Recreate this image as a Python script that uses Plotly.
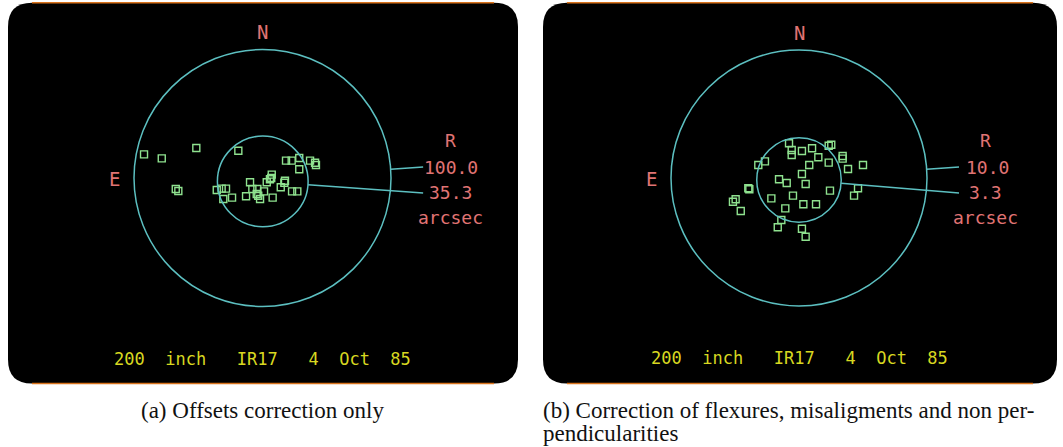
import math
import plotly.graph_objects as go

W, H = 1063, 447

# Guide-star pointing offsets in arcsec (east, north) -- panel (a): offsets correction only
east_a = [92.2, 78.4, 51.5, 67.5, 65.5, 18.8, 35.6, 31.8, 28.4, 30.5, 23.7, 12.8,
          9.7, 7.9, 4.0, 4.5, 3.3, 1.9, -1.2, -3.3, -7.2, -5.8, -6.8, -7.9, -14.2,
          -17.5, -17.0, -23.0, -27.1, -18.3, -22.7, -28.6, -28.6, -37.0, -40.9, -41.6]
north_a = [18.4, 15.3, 23.3, -8.6, -10.1, 21.2, -9.3, -8.3, -8.3, -16.3, -15.3, -14.2,
           -3.3, -8.6, -8.6, -12.5, -13.8, -16.3, -10.4, -3.3, 2.6, -1.0, 0.0, -15.3, -7.2,
           -2.1, -3.7, -10.4, -10.4, 13.5, 13.5, 15.6, 6.8, 13.5, 11.9, 10.1]

# Panel (b): after flexure / misalignment / non-perpendicularity correction
east_b = [0.78, 0.57, 0.57, -0.23, -1.02, -1.51, -2.32, -2.52, -3.41, -3.41, -5.00,
          -3.83, -2.32, -0.80, -0.23, 1.56, 0.96, -0.52, -2.42, -4.61, -4.30, 0.47,
          2.16, -0.34, -1.33, 1.07, 1.38, 1.66, -0.23, -0.52, 3.18, 2.66, 3.96, 3.88,
          4.95, 5.16, 4.55]
north_b = [2.71, 2.19, 1.80, 2.11, 2.32, 1.62, 2.52, 2.60, 1.72, 1.51, 1.02,
           0.70, 1.20, 1.02, 0.31, -0.10, -0.39, -0.47, -0.99, -0.80, -1.38, -1.38,
           -1.59, -2.05, -2.05, -2.37, -3.28, -3.85, -3.96, -4.59, 1.02, 1.30, -0.80, -0.88,
           -1.66, -1.85, -2.58]

# Reference ring radius and rms radius (arcsec), plus centre of the rms ring
outer_r = [100.0, 10.0]
rms_r = [35.3, 3.3]
rms_center = [(-0.2, -2.7), (0.0, -0.15)]
outer_label = ["100.0", "10.0"]
rms_label = ["35.3", "3.3"]

footer = "200\u00a0\u00a0inch\u00a0\u00a0\u00a0IR17\u00a0\u00a0\u00a04\u00a0\u00a0Oct\u00a0\u00a085"
captions_a = ["(a) Offsets correction only"]
captions_b = ["(b) Correction of flexures, misaligments and non per-", "pendicularities"]

# ---- screen layout (pixels) ----
panels = [
    dict(box=(8, 2.7, 518, 383.5), center=(262.5, 178.0), ring_px=128.5),
    dict(box=(543, 2.7, 1057, 383.5), center=(799.0, 178.0), ring_px=128.0),
]

BG = "#000000"
RING = "#5cbfc0"
POINT = "#8fe28f"
LABEL = "#e07474"
FOOT = "#d8d820"
EDGE = "#d9731c"
MONO = "DejaVu Sans Mono"


def px(x):
    return x / W


def py(y):
    return 1 - y / H


fig = go.Figure()
shapes = []
annotations = []
series = [(east_a, north_a), (east_b, north_b)]

for i, p in enumerate(panels):
    x0, y0, x1, y1 = p["box"]
    cx, cy = p["center"]
    R = outer_r[i]
    s = p["ring_px"] / R  # pixels per arcsec
    xa = "x" if i == 0 else f"x{i + 1}"
    ya = "y" if i == 0 else f"y{i + 1}"
    xkey = "xaxis" if i == 0 else f"xaxis{i + 1}"
    ykey = "yaxis" if i == 0 else f"yaxis{i + 1}"

    # east grows to the left, north grows upward
    fig.update_layout({
        xkey: dict(domain=[px(x0), px(x1)], range=[(cx - x0) / s, (cx - x1) / s],
                   visible=False, anchor=ya),
        ykey: dict(domain=[py(y1), py(y0)], range=[(cy - y1) / s, (cy - y0) / s],
                   visible=False, anchor=xa),
    })

    # rounded black screen
    r = 24
    rx, ry = r / W, r / H
    X0, X1, Y0, Y1 = px(x0), px(x1), py(y0), py(y1)
    path = (f"M {X0 + rx},{Y0} L {X1 - rx},{Y0} Q {X1},{Y0} {X1},{Y0 - ry} "
            f"L {X1},{Y1 + ry} Q {X1},{Y1} {X1 - rx},{Y1} L {X0 + rx},{Y1} "
            f"Q {X0},{Y1} {X0},{Y1 + ry} L {X0},{Y0 - ry} Q {X0},{Y0} {X0 + rx},{Y0} Z")
    shapes.append(dict(type="path", xref="paper", yref="paper", path=path,
                       fillcolor=BG, line=dict(width=0), layer="below"))
    for yy in (Y0, Y1):
        shapes.append(dict(type="line", xref="paper", yref="paper",
                           x0=X0 + rx, x1=X1 - rx, y0=yy, y1=yy,
                           line=dict(color=EDGE, width=1.5), layer="below"))

    # reference ring and rms ring
    shapes.append(dict(type="circle", xref=xa, yref=ya, x0=-R, x1=R, y0=-R, y1=R,
                       line=dict(color=RING, width=1.5)))
    mx, my = rms_center[i]
    rr = rms_r[i]
    shapes.append(dict(type="circle", xref=xa, yref=ya, x0=mx - rr, x1=mx + rr,
                       y0=my - rr, y1=my + rr, line=dict(color=RING, width=1.5)))

    # leader lines to the radius labels
    end_hi = (-1.25 * R, 0.086 * R)
    end_lo = (-1.25 * R, -0.117 * R)
    d = math.hypot(*end_hi)
    start_hi = (end_hi[0] / d * R, end_hi[1] / d * R)
    vx, vy = end_lo[0] - mx, end_lo[1] - my
    d = math.hypot(vx, vy)
    start_lo = (mx + vx / d * rr, my + vy / d * rr)
    for a, b in ((start_hi, end_hi), (start_lo, end_lo)):
        shapes.append(dict(type="line", xref=xa, yref=ya, x0=a[0], y0=a[1],
                           x1=b[0], y1=b[1], line=dict(color=RING, width=1.5)))

    def label(text, x, y, color=LABEL, size=18):
        annotations.append(dict(text=text, x=x, y=y, xref=xa, yref=ya, showarrow=False,
                                xanchor="center", yanchor="middle",
                                font=dict(family=MONO, size=size, color=color)))

    label("N", 0, 1.135 * R, size=19)
    label("E", 1.15 * R, -0.01 * R, size=19)
    label("R", -1.46 * R, 0.29 * R)
    label(outer_label[i], -1.47 * R, 0.08 * R)
    label(rms_label[i], -1.46 * R, -0.115 * R)
    label("arcsec", -1.46 * R, -0.31 * R)
    label(footer, 0, -1.41 * R, color=FOOT, size=17)

    e, n = series[i]
    fig.add_trace(go.Scatter(x=e, y=n, xaxis=xa, yaxis=ya, mode="markers",
                             marker=dict(symbol="square-open", size=7,
                                         color=POINT, line=dict(width=1.4, color=POINT)),
                             hoverinfo="skip", showlegend=False))

SERIF = "Liberation Serif"
annotations.append(dict(text=captions_a[0], x=px(262.5), y=py(410), xref="paper", yref="paper",
                        showarrow=False, xanchor="center", yanchor="middle",
                        font=dict(family=SERIF, size=23, color="#111111")))
for k, line in enumerate(captions_b):
    annotations.append(dict(text=line, x=px(541), y=py(410 + 23 * k), xref="paper", yref="paper",
                            showarrow=False, xanchor="left", yanchor="middle",
                            font=dict(family=SERIF, size=23, color="#111111")))

fig.update_layout(width=W, height=H, margin=dict(l=0, r=0, t=0, b=0),
                  paper_bgcolor="white", plot_bgcolor="rgba(0,0,0,0)",
                  shapes=shapes, annotations=annotations)

fig.write_html("out.html")
